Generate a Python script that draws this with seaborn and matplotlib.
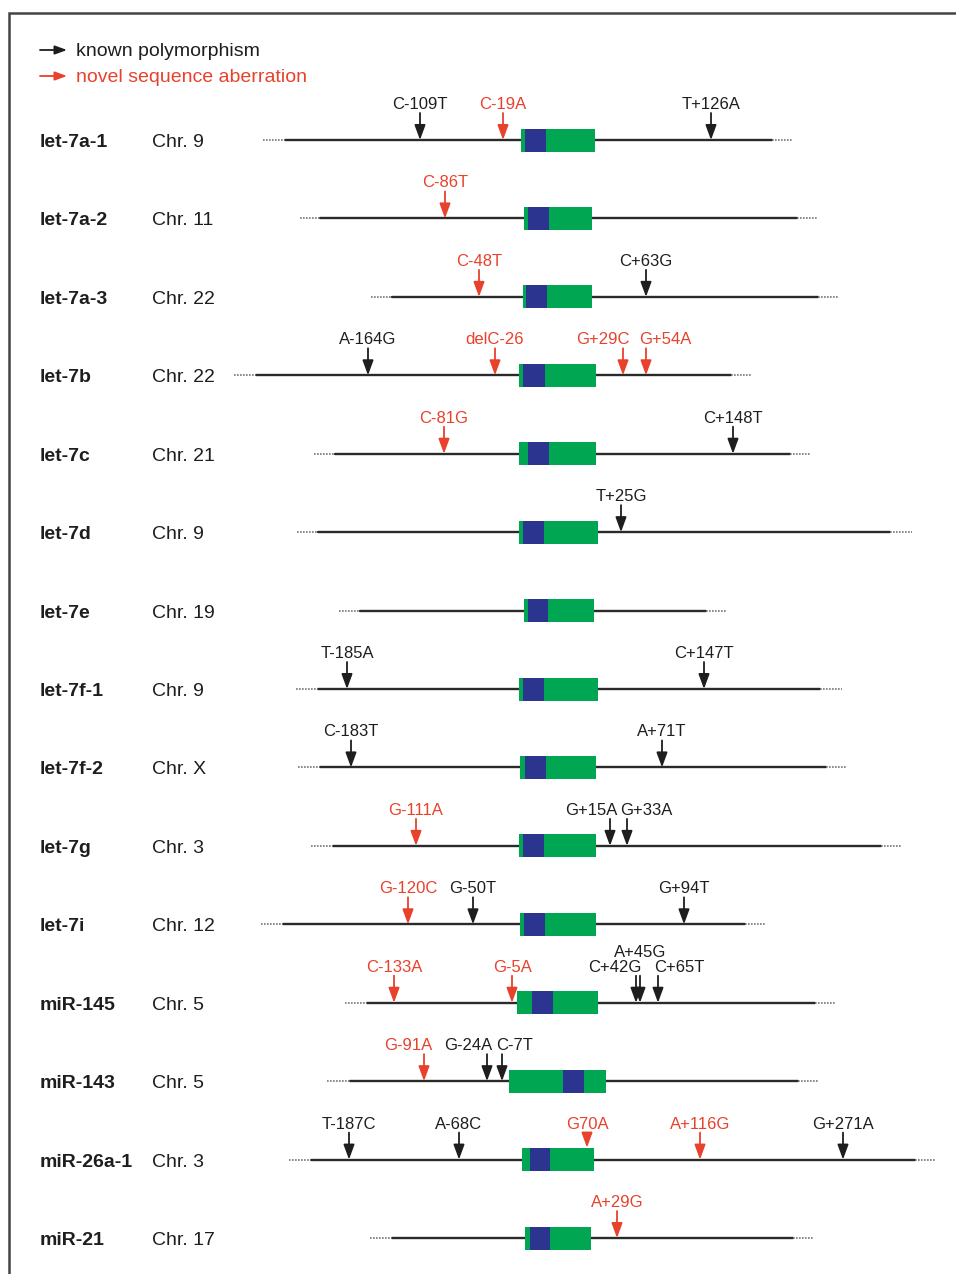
import numpy as np
import pandas as pd
import seaborn as sns
import matplotlib.pyplot as plt
from matplotlib.patches import Rectangle

# Genes and their chromosomes
genes = ['let-7a-1', 'let-7a-2', 'let-7a-3', 'let-7b', 'let-7c', 'let-7d', 'let-7e',
         'let-7f-1', 'let-7f-2', 'let-7g', 'let-7i', 'miR-145', 'miR-143', 'miR-26a-1', 'miR-21']
chroms = ['Chr. 9', 'Chr. 11', 'Chr. 22', 'Chr. 22', 'Chr. 21', 'Chr. 9', 'Chr. 19',
          'Chr. 9', 'Chr. X', 'Chr. 3', 'Chr. 12', 'Chr. 5', 'Chr. 5', 'Chr. 3', 'Chr. 17']

# Sequenced region (schematic position along the line)
dot_start = [263, 300, 371, 234, 314, 297, 339, 296, 298, 311, 261, 345, 327, 289, 370]
seq_start = [285, 320, 392, 256, 335, 318, 360, 318, 320, 333, 283, 367, 350, 311, 392]
seq_end = [772, 797, 818, 731, 790, 890, 706, 820, 826, 881, 745, 815, 798, 915, 793]
dot_end = [793, 818, 838, 752, 810, 912, 727, 842, 847, 902, 766, 836, 818, 936, 814]

# Precursor (green) and mature miRNA (blue)
pre_start = [521, 524, 523, 519, 519, 519, 524, 519, 520, 519, 520, 517, 509, 522, 525]
pre_end = [595, 592, 592, 596, 596, 598, 594, 598, 596, 596, 596, 598, 606, 594, 591]
mat_start = [525, 528, 526, 523, 528, 523, 528, 523, 525, 523, 524, 532, 563, 530, 530]
mat_end = [546, 549, 547, 545, 549, 544, 548, 544, 546, 544, 545, 553, 584, 550, 550]

# Variants: (label, arrow position, label position, novel?)
variants = {
    'let-7a-1': [('C-109T', 420, 420, False), ('C-19A', 503, 503, True), ('T+126A', 711, 711, False)],
    'let-7a-2': [('C-86T', 445, 445, True)],
    'let-7a-3': [('C-48T', 479, 479, True), ('C+63G', 646, 646, False)],
    'let-7b': [('A-164G', 368, 368, False), ('delC-26', 495, 495, True),
               ('G+29C', 623, 603, True), ('G+54A', 646, 665, True)],
    'let-7c': [('C-81G', 444, 444, True), ('C+148T', 733, 733, False)],
    'let-7d': [('T+25G', 621, 621, False)],
    'let-7e': [],
    'let-7f-1': [('T-185A', 347, 347, False), ('C+147T', 704, 704, False)],
    'let-7f-2': [('C-183T', 351, 351, False), ('A+71T', 662, 662, False)],
    'let-7g': [('G-111A', 416, 416, True), ('G+15A', 610, 591, False), ('G+33A', 627, 646, False)],
    'let-7i': [('G-120C', 408, 408, True), ('G-50T', 473, 473, False), ('G+94T', 684, 684, False)],
    'miR-145': [('C-133A', 394, 394, True), ('G-5A', 512, 513, True), ('C+42G', 636, 615, False),
                ('A+45G', 640, 640, False), ('C+65T', 658, 679, False)],
    'miR-143': [('G-91A', 424, 408, True), ('G-24A', 487, 468, False), ('C-7T', 502, 515, False)],
    'miR-26a-1': [('T-187C', 349, 349, False), ('A-68C', 459, 459, False), ('G70A', 587, 587, True),
                  ('A+116G', 700, 700, True), ('G+271A', 843, 843, False)],
    'miR-21': [('A+29G', 617, 617, True)],
}

BLACK = '#1e1e1e'
RED = '#e8412c'
GREEN = '#00a651'
BLUE = '#2b3590'

sns.set_theme(style='white')
plt.rcParams['font.family'] = ['Liberation Sans', 'DejaVu Sans']

fig = plt.figure(figsize=(9.56, 12.74), dpi=100)
ax = fig.add_axes([0, 0, 1, 1])

row_y = 140 + 78.43 * np.arange(len(genes))

# backbone lines via seaborn
solid = pd.DataFrame({
    'gene': np.repeat(genes, 2),
    'x': np.ravel(np.column_stack([seq_start, seq_end])),
    'y': np.repeat(row_y, 2),
})
sns.lineplot(data=solid, x='x', y='y', units='gene', estimator=None,
             color='#2a2a2a', lw=1.7, ax=ax, legend=False)
ax.set_xlim(0, 956)
ax.set_ylim(1274, 0)
ax.axis('off')


def arrow(x0, y0, x1, y1, color, scale=15):
    ax.annotate('', xy=(x1, y1), xytext=(x0, y0),
                arrowprops=dict(arrowstyle='-|>,head_length=0.6,head_width=0.22',
                                color=color, lw=1.3, shrinkA=0, shrinkB=0,
                                mutation_scale=scale))


for i, g in enumerate(genes):
    y = row_y[i]
    ax.text(40, y + 2.5, g, fontsize=14, fontweight='bold', color=BLACK, va='center')
    ax.text(152, y + 2.5, chroms[i], fontsize=14, color=BLACK, va='center')
    ax.plot([dot_start[i], seq_start[i]], [y, y], color='#777777', lw=1.2, ls=(0, (1, 0.8)))
    ax.plot([seq_end[i], dot_end[i]], [y, y], color='#777777', lw=1.2, ls=(0, (1, 0.8)))
    ax.add_patch(Rectangle((pre_start[i], y - 11.5), pre_end[i] - pre_start[i], 23,
                           facecolor=GREEN, edgecolor='none', zorder=3))
    ax.add_patch(Rectangle((mat_start[i], y - 11.5), mat_end[i] - mat_start[i], 23,
                           facecolor=BLUE, edgecolor='none', zorder=4))
    for name, xa, xl, novel in variants[g]:
        c = RED if novel else BLACK
        tip = y
        if pre_start[i] <= xa <= pre_end[i]:
            tip = y - 12
        arrow(xa, y - 27, xa, tip, c)
        ly = y - 35.5
        if name == 'A+45G':
            ly = y - 50
        ax.text(xl, ly, name, fontsize=12, color=c, ha='center', va='center')

# legend
arrow(40, 50, 67, 50, BLACK, scale=12)
arrow(40, 76, 67, 76, RED, scale=12)
ax.text(76, 52, 'known polymorphism', fontsize=14, color=BLACK, va='center')
ax.text(76, 78, 'novel sequence aberration', fontsize=14, color=RED, va='center')

# frame
ax.plot([9, 9, 956], [1274, 13, 13], color='#444444', lw=1.8, solid_joinstyle='miter')

plt.savefig('out.png', dpi=100)
plt.close()
